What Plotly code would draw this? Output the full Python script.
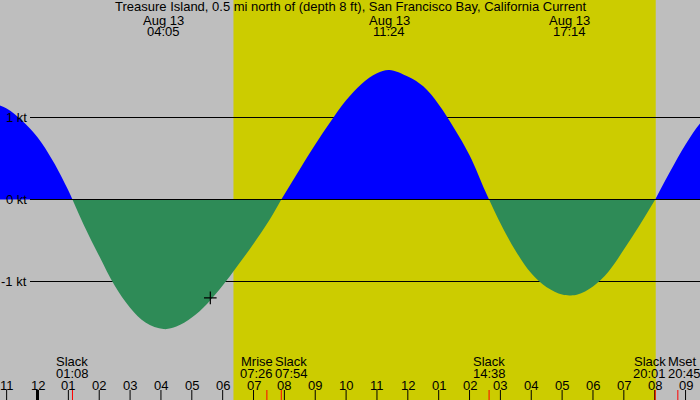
import plotly.graph_objects as go

title = "Treasure Island, 0.5 mi north of (depth 8 ft), San Francisco Bay, California Current"
day = "Aug 13"

# current speed (kt), time in hours from midnight Aug 13
flood1_t = [-1.5, -1.0, -0.5, 0.0, 0.5, 1.0, 1.133]
flood1_v = [1.18, 1.11, 0.96, 0.76, 0.47, 0.11, 0.0]

ebb1_t = [1.133, 1.5, 2.0, 2.5, 3.0, 3.5, 4.083, 4.5, 5.0, 5.5, 6.0, 6.5, 7.0, 7.5, 7.9]
ebb1_v = [0.0, -0.31, -0.69, -1.05, -1.32, -1.50, -1.58, -1.55, -1.44, -1.27, -1.05, -0.80, -0.54, -0.26, 0.0]

flood2_t = [7.9, 8.5, 9.0, 9.5, 10.0, 10.5, 11.0, 11.4, 12.0, 12.5, 13.0, 13.5, 14.0, 14.5, 14.633]
flood2_v = [0.0, 0.37, 0.67, 0.95, 1.21, 1.41, 1.54, 1.58, 1.50, 1.38, 1.16, 0.87, 0.54, 0.11, 0.0]

ebb2_t = [14.633, 15.0, 15.5, 16.0, 16.5, 17.0, 17.233, 17.5, 18.0, 18.5, 19.0, 19.5, 20.017]
ebb2_v = [0.0, -0.29, -0.63, -0.90, -1.07, -1.16, -1.17, -1.16, -1.06, -0.88, -0.61, -0.32, 0.0]

flood3_t = [20.017, 20.5, 21.0, 21.5, 22.0]
flood3_v = [0.0, 0.34, 0.67, 0.94, 1.12]

now_t, now_v = 5.6, -1.20

ext_times = ["04:05", "11:24", "17:14"]
sunrise, sunset = "06:21", "20:02"

ev_names = ["Slack", "Mrise", "Slack", "Slack", "Slack", "Mset"]
ev_times = ["01:08", "07:26", "07:54", "14:38", "20:01", "20:45"]

hour_ticks = list(range(-1, 22))
hour_labels = ["11", "12", "01", "02", "03", "04", "05", "06", "07", "08", "09", "10",
               "11", "12", "01", "02", "03", "04", "05", "06", "07", "08", "09"]

kt_levels = [1, 0, -1]
kt_labels = ["1 kt", "0 kt", "-1 kt"]


def hrs(s):
    h, m = s.split(":")
    return int(h) + int(m) / 60


W, H = 700, 400
PXH, PXK = 30.86, 82.0          # pixels per hour / per knot
X0, Y0 = 37.5, 199.5            # pixel of midnight / of 0 kt
xr = [-X0 / PXH, (W - X0) / PXH]
yr = [-(H - Y0) / PXK, Y0 / PXK]
GREY = "#bebebe"
YELLOW = "#cccc00"
FONT = dict(family="Liberation Sans, Arial, sans-serif", size=13, color="black")


def py(p):  # pixel row -> paper y
    return 1 - p / H


fig = go.Figure()
for t, v, col in [(flood1_t, flood1_v, "#0000ff"), (ebb1_t, ebb1_v, "#2e8b57"),
                  (flood2_t, flood2_v, "#0000ff"), (ebb2_t, ebb2_v, "#2e8b57"),
                  (flood3_t, flood3_v, "#0000ff")]:
    fig.add_trace(go.Scatter(x=t, y=v, mode="lines", line=dict(width=0, shape="spline", color=col),
                             fill="tozeroy", fillcolor=col, hoverinfo="skip"))

fig.add_trace(go.Scatter(x=[now_t], y=[now_v], mode="markers",
                         marker=dict(symbol="cross-thin", size=9, line=dict(width=1.2, color="black"))))

shapes = [dict(type="rect", xref="x", yref="paper", x0=hrs(sunrise), x1=hrs(sunset), y0=0, y1=1,
               fillcolor=YELLOW, line_width=0, layer="below")]
for lv in kt_levels:
    shapes.append(dict(type="line", xref="paper", yref="y", x0=30 / W, x1=1, y0=lv, y1=lv,
                       line=dict(color="black", width=1), layer="above" if lv == 0 else "below"))
for h in hour_ticks:
    shapes.append(dict(type="line", xref="x", yref="paper", x0=h, x1=h, y0=0, y1=10 / H,
                       line=dict(color="black", width=3 if h == 0 else 1)))
for s in ev_times:
    shapes.append(dict(type="line", xref="x", yref="paper", x0=hrs(s), x1=hrs(s), y0=0, y1=10 / H,
                       line=dict(color="red", width=1)))

ann = [dict(text=title, x=0.5, xref="paper", y=py(7), yref="paper", showarrow=False)]
for s in ext_times:
    ann.append(dict(text=day, x=hrs(s), xref="x", y=py(20), yref="paper", showarrow=False))
    ann.append(dict(text=s, x=hrs(s), xref="x", y=py(32), yref="paper", showarrow=False))
for h, lab in zip(hour_ticks, hour_labels):
    ann.append(dict(text=lab, x=h, xref="x", y=py(385), yref="paper", showarrow=False))
for lv, lab in zip(kt_levels, kt_labels):
    ann.append(dict(text=lab, x=28 / W, xref="paper", xanchor="right", y=lv, yref="y", showarrow=False))

# event labels: close pairs get packed either side of their midpoint
ev_x = [hrs(s) for s in ev_times]
anchors = ["center"] * len(ev_x)
pos = list(ev_x)
for i in range(len(ev_x) - 1):
    if ev_x[i + 1] - ev_x[i] < 1.2:
        mid = (ev_x[i] + ev_x[i + 1]) / 2
        pos[i], pos[i + 1] = mid, mid
        anchors[i], anchors[i + 1] = "right", "left"
for name, s, x, a in zip(ev_names, ev_times, pos, anchors):
    ann.append(dict(text=name, x=x, xref="x", xanchor=a, y=py(361), yref="paper", showarrow=False))
    ann.append(dict(text=s, x=x, xref="x", xanchor=a, y=py(373), yref="paper", showarrow=False))

for a in ann:
    a["yanchor"] = "middle"
    a["font"] = FONT
    a["borderpad"] = 0

fig.update_layout(width=W, height=H, margin=dict(l=0, r=0, t=0, b=0),
                  paper_bgcolor=GREY, plot_bgcolor=GREY, showlegend=False,
                  xaxis=dict(range=xr, visible=False, fixedrange=True),
                  yaxis=dict(range=yr, visible=False, fixedrange=True),
                  shapes=shapes, annotations=ann)
fig.write_html("out.html", config={"displayModeBar": False},
               post_script="document.body.style.margin='0';document.body.style.overflow='hidden';")
